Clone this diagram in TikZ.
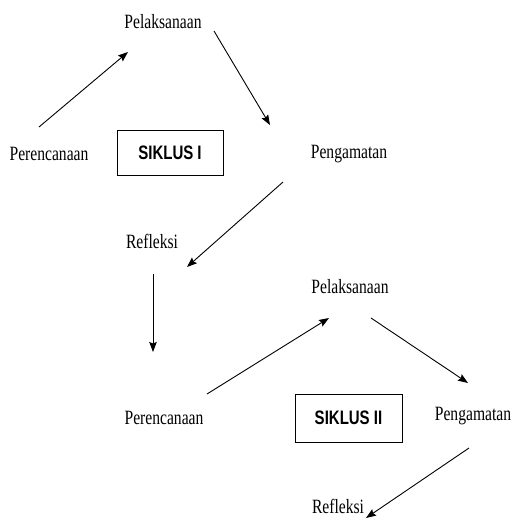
\documentclass[tikz,border=0pt]{standalone}
\usepackage{fontspec}
\setmainfont{Liberation Serif}
\setsansfont{Liberation Sans}
\usepackage{graphicx}
\usetikzlibrary{arrows.meta}

\newcommand{\tall}[1]{\scalebox{1}[1.3]{#1}}

\tikzset{
    label/.style = {anchor=base, inner sep=0pt, font=\fontsize{15.6}{18}\selectfont},
    siklusbox/.style = {draw, line width=0.8pt, inner sep=0pt,
        font=\sffamily\bfseries\fontsize{15}{18}\selectfont},
    arr/.style = {line width=0.9pt, -{Stealth[length=10pt,width=7.5pt,inset=1.5pt]}}
}

\begin{document}
\begin{tikzpicture}[x=1pt, y=-1pt]
    \useasboundingbox (0,0) rectangle (511,523);

    % siklus I
    \node[label] (pel1) at (163,28) {\tall{Pelaksanaan}};
    \node[label] (per1) at (49,160) {\tall{Perencanaan}};
    \node[label] (pen1) at (349,158) {\tall{Pengamatan}};
    \node[label] (ref1) at (152,248) {\tall{Refleksi}};
    \node[siklusbox, minimum width=106pt, minimum height=45pt] (sik1) at (170,152.5) {\tall{SIKLUS I}};

    % siklus II
    \node[label] (pel2) at (350,293) {\tall{Pelaksanaan}};
    \node[label] (per2) at (164,424) {\tall{Perencanaan}};
    \node[label] (pen2) at (473,420) {\tall{Pengamatan}};
    \node[label] (ref2) at (338,513) {\tall{Refleksi}};
    \node[siklusbox, minimum width=107pt, minimum height=48pt] (sik2) at (348.5,418) {\tall{SIKLUS II}};

    % arrow ends
    \coordinate (per1out) at (39,127);
    \coordinate (pel1in) at (128,52);
    \coordinate (pel1out) at (214,31);
    \coordinate (pen1in) at (270,125);
    \coordinate (pen1out) at (283,182);
    \coordinate (ref1in) at (187,267);
    \coordinate (ref1out) at (153,274);
    \coordinate (per2in) at (153,352);
    \coordinate (per2out) at (207,394);
    \coordinate (pel2in) at (329,318);
    \coordinate (pel2out) at (371,318);
    \coordinate (pen2in) at (468,383);
    \coordinate (pen2out) at (469,448);
    \coordinate (ref2in) at (366,518);

    \draw[arr] (per1out) -- (pel1in);
    \draw[arr] (pel1out) -- (pen1in);
    \draw[arr] (pen1out) -- (ref1in);
    \draw[arr] (ref1out) -- (per2in);
    \draw[arr] (per2out) -- (pel2in);
    \draw[arr] (pel2out) -- (pen2in);
    \draw[arr] (pen2out) -- (ref2in);
\end{tikzpicture}
\end{document}
